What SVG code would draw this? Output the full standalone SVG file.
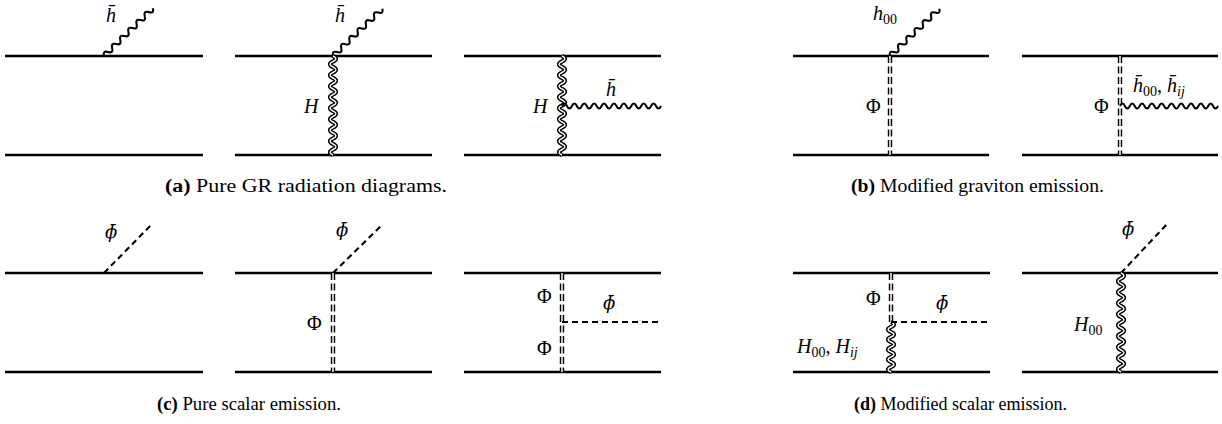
<svg xmlns="http://www.w3.org/2000/svg" xmlns:xlink="http://www.w3.org/1999/xlink" width="1222" height="424" viewBox="0 0 1222 424">
<style>
.ln{stroke:#000;stroke-width:2.4;fill:none}
.wv{stroke:#000;stroke-width:2.1;fill:none}
.dwo{stroke:#000;stroke-width:4.2;fill:none}
.dwi{stroke:#fff;stroke-width:1.4;fill:none}
.ds{stroke:#000;stroke-width:2.1;stroke-dasharray:6 4;fill:none}
.ddo{stroke:#000;stroke-width:4.4;stroke-dasharray:7 3.5;fill:none}
.ddi{stroke:#fff;stroke-width:1.5;fill:none}
.lb{font-family:"Liberation Serif","DejaVu Serif",serif;font-size:20px;font-style:italic;fill:#000}
.ph{font-family:"DejaVu Serif",serif;font-size:18px;font-style:italic;fill:#000}
.up{font-style:normal}
.sb{font-size:14px}
.cap{font-family:"Liberation Serif","DejaVu Serif",serif;font-size:18px;fill:#000}
.bf{font-weight:bold}
</style>
<defs>
<path id="wdiag" d="M0,0 q2.85,-5 5.7,0 t5.7,0 t5.7,0 t5.7,0 t5.7,0 t5.7,0 t5.7,0 t5.7,0 t5.7,0 t5.7,0 t5.7,0 t5.7,0"/>
<path id="whor" d="M0,0 q2.475,-5 4.95,0 t4.95,0 t4.95,0 t4.95,0 t4.95,0 t4.95,0 t4.95,0 t4.95,0 t4.95,0 t4.95,0 t4.95,0 t4.95,0 t4.95,0 t4.95,0 t4.95,0 t4.95,0 t4.95,0 t4.95,0 t4.95,0 t4.95,0"/>
<path id="wvert" d="M0,0 q2.75,-6 5.5,0 t5.5,0 t5.5,0 t5.5,0 t5.5,0 t5.5,0 t5.5,0 t5.5,0 t5.5,0 t5.5,0 t5.5,0 t5.5,0 t5.5,0 t5.5,0 t5.5,0 t5.5,0 t5.5,0 t5.5,0"/>
<path id="wshort" d="M0,0 q2.5,-6 5,0 t5,0 t5,0 t5,0 t5,0 t5,0 t5,0 t5,0 t5,0 t5,0"/>
</defs>

<g id="fermion-lines">
<line class="ln" x1="5" y1="56" x2="203" y2="56"/><line class="ln" x1="5" y1="155" x2="203" y2="155"/>
<line class="ln" x1="235" y1="56" x2="432" y2="56"/><line class="ln" x1="235" y1="155" x2="432" y2="155"/>
<line class="ln" x1="464" y1="56" x2="661" y2="56"/><line class="ln" x1="464" y1="155" x2="661" y2="155"/>
<line class="ln" x1="793" y1="56" x2="989" y2="56"/><line class="ln" x1="793" y1="155" x2="989" y2="155"/>
<line class="ln" x1="1022" y1="56" x2="1218" y2="56"/><line class="ln" x1="1022" y1="155" x2="1218" y2="155"/>
<line class="ln" x1="5" y1="273" x2="203" y2="273"/><line class="ln" x1="5" y1="372" x2="203" y2="372"/>
<line class="ln" x1="235" y1="273" x2="432" y2="273"/><line class="ln" x1="235" y1="372" x2="432" y2="372"/>
<line class="ln" x1="464" y1="273" x2="661" y2="273"/><line class="ln" x1="464" y1="372" x2="661" y2="372"/>
<line class="ln" x1="793" y1="273" x2="990" y2="273"/><line class="ln" x1="793" y1="372" x2="990" y2="372"/>
<line class="ln" x1="1022" y1="273" x2="1218" y2="273"/><line class="ln" x1="1022" y1="372" x2="1218" y2="372"/>
</g>

<g id="connectors">
<use xlink:href="#wdiag" class="wv" transform="translate(104,56) rotate(-44.4)"/>
<use xlink:href="#wdiag" class="wv" transform="translate(333,56) rotate(-43.8)"/>
<use xlink:href="#wvert" class="dwo" transform="translate(333,56) rotate(90)"/>
<use xlink:href="#wvert" class="dwi" transform="translate(333,56) rotate(90)"/>
<use xlink:href="#wvert" class="dwo" transform="translate(562,56) rotate(90)"/>
<use xlink:href="#wvert" class="dwi" transform="translate(562,56) rotate(90)"/>
<use xlink:href="#whor" class="wv" transform="translate(562,106)"/>
<use xlink:href="#wdiag" class="wv" transform="translate(890,56) rotate(-43.8)"/>
<line class="ddo" x1="890" y1="56" x2="890" y2="155"/>
<line class="ddi" x1="890" y1="56" x2="890" y2="155"/>
<line class="ddo" x1="1120" y1="56" x2="1120" y2="155"/>
<line class="ddi" x1="1120" y1="56" x2="1120" y2="155"/>
<use xlink:href="#whor" class="wv" transform="translate(1120,106) scale(0.99,1)"/>
<line class="ds" x1="104" y1="273" x2="153" y2="223"/>
<line class="ds" x1="333" y1="273" x2="382" y2="225"/>
<line class="ddo" x1="333" y1="273" x2="333" y2="372"/>
<line class="ddi" x1="333" y1="273" x2="333" y2="372"/>
<line class="ddo" x1="562" y1="273" x2="562" y2="372"/>
<line class="ddi" x1="562" y1="273" x2="562" y2="372"/>
<line class="ds" x1="562" y1="322" x2="661" y2="322"/>
<line class="ddo" x1="891" y1="273" x2="891" y2="322"/>
<line class="ddi" x1="891" y1="273" x2="891" y2="322"/>
<use xlink:href="#wshort" class="dwo" transform="translate(891,322) rotate(90)"/>
<use xlink:href="#wshort" class="dwi" transform="translate(891,322) rotate(90)"/>
<line class="ds" x1="891" y1="322" x2="990" y2="322"/>
<line class="ds" x1="1121" y1="273" x2="1168" y2="223"/>
<use xlink:href="#wvert" class="dwo" transform="translate(1121,273) rotate(90)"/>
<use xlink:href="#wvert" class="dwi" transform="translate(1121,273) rotate(90)"/>
</g>

<g id="labels">
<text id="a1-h" class="lb" x="106" y="22">h&#x0304;</text>
<text id="a2-h" class="lb" x="335" y="22">h&#x0304;</text>
<text id="a2-H" class="lb" x="304" y="113">H</text>
<text id="a3-H" class="lb" x="533" y="113">H</text>
<text id="a3-h" class="lb" x="606" y="96">h&#x0304;</text>
<text id="b1-h" class="lb" x="873" y="20">h<tspan class="sb up" dy="4">00</tspan></text>
<text id="b1-Phi" class="lb up" x="866" y="113">Φ</text>
<text id="b2-Phi" class="lb up" x="1094" y="113">Φ</text>
<text id="b2-h" class="lb" x="1133" y="92">h&#x0304;<tspan class="sb up" dy="4">00</tspan><tspan class="up" dy="-4">, </tspan>h&#x0304;<tspan class="sb" dy="4">ij</tspan></text>
<text id="c1-phi" class="ph" x="105" y="238">ϕ&#x0304;</text>
<text id="c2-phi" class="ph" x="336" y="236">ϕ&#x0304;</text>
<text id="c2-Phi" class="lb up" x="307" y="330">Φ</text>
<text id="c3-Phi1" class="lb up" x="537" y="303">Φ</text>
<text id="c3-Phi2" class="lb up" x="537" y="355">Φ</text>
<text id="c3-phi" class="ph" x="603" y="309">ϕ&#x0304;</text>
<text id="d1-Phi" class="lb up" x="866" y="305">Φ</text>
<text id="d1-phi" class="ph" x="936" y="309">ϕ&#x0304;</text>
<text id="d1-H" class="lb" x="797" y="353">H<tspan class="sb up" dy="4">00</tspan><tspan class="up" dy="-4">, </tspan>H<tspan class="sb" dy="4">ij</tspan></text>
<text id="d2-phi" class="ph" x="1122" y="235">ϕ&#x0304;</text>
<text id="d2-H" class="lb" x="1074" y="331">H<tspan class="sb up" dy="4">00</tspan></text>
</g>

<g id="captions">
<text class="cap" x="165" y="192" textLength="282" lengthAdjust="spacingAndGlyphs"><tspan class="bf">(a)</tspan> Pure GR radiation diagrams.</text>
<text class="cap" x="851" y="192" textLength="253" lengthAdjust="spacingAndGlyphs"><tspan class="bf">(b)</tspan> Modified graviton emission.</text>
<text class="cap" x="157" y="410" textLength="184" lengthAdjust="spacingAndGlyphs"><tspan class="bf">(c)</tspan> Pure scalar emission.</text>
<text class="cap" x="854" y="410" textLength="213" lengthAdjust="spacingAndGlyphs"><tspan class="bf">(d)</tspan> Modified scalar emission.</text>
</g>
</svg>
